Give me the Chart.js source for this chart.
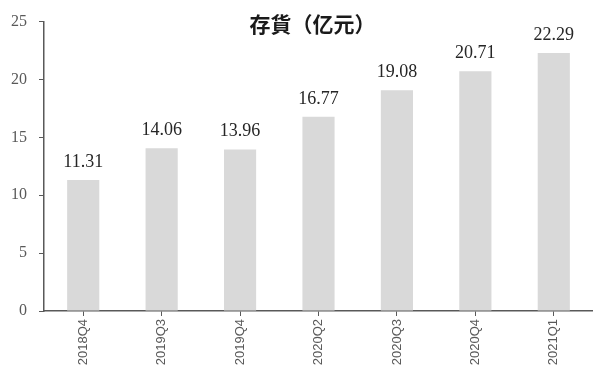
<!DOCTYPE html>
<html>
<head>
<meta charset="utf-8">
<script src="https://cdn.jsdelivr.net/npm/chart.js@4/dist/chart.umd.min.js"></script>
<style>
html,body{margin:0;padding:0;background:#fff;}
#wrap{width:593px;height:368px;position:relative;}
</style>
</head>
<body>
<div id="wrap"><canvas id="c"></canvas></div>
<script>
const titleText = "存貨（亿元）";
const categories = ["2018Q4","2019Q3","2019Q4","2020Q2","2020Q3","2020Q4","2021Q1"];
const inventory = [11.31,14.06,13.96,16.77,19.08,20.71,22.29];
const yTicks = [0,5,10,15,20,25];

const labelPlugin = {
  id: 'valueLabels',
  afterDatasetsDraw(chart) {
    const ctx = chart.ctx;
    const meta = chart.getDatasetMeta(0);
    ctx.save();
    ctx.font = '18px "Liberation Serif", serif';
    ctx.fillStyle = '#262626';
    ctx.textAlign = 'center';
    ctx.textBaseline = 'alphabetic';
    meta.data.forEach((bar, i) => {
      ctx.fillText(inventory[i].toFixed(2), bar.x, bar.y - 13);
    });
    ctx.restore();
  }
};
const titlePlugin = {
  id: 'topTitle',
  afterDraw(chart) {
    const ctx = chart.ctx;
    const a = chart.chartArea;
    ctx.save();
    ctx.font = 'bold 21px "Noto Sans CJK SC", sans-serif';
    ctx.fillStyle = '#1a1a1a';
    ctx.textAlign = 'center';
    ctx.textBaseline = 'middle';
    ctx.fillText(titleText, (a.left + a.right) / 2 - 6, 24);
    ctx.restore();
  }
};

new Chart(document.getElementById('c'), {
  type: 'bar',
  data: {
    labels: categories,
    datasets: [{
      data: inventory,
      backgroundColor: '#d9d9d9',
      borderWidth: 0,
      categoryPercentage: 1,
      barPercentage: 0.41
    }]
  },
  options: {
    responsive: true,
    maintainAspectRatio: false,
    animation: false,
    layout: { padding: { top: 21, right: 0, left: 0, bottom: 0 } },
    plugins: { legend: { display: false }, tooltip: { enabled: false }, title: { display: false } },
    scales: {
      x: {
        offset: true,
        afterFit(s) { s.height = 57; },
        border: { color: '#595959', width: 1.5 },
        grid: { offset: false, drawOnChartArea: false, drawTicks: true, tickLength: 5, color: '#595959' },
        ticks: {
          minRotation: 90, maxRotation: 90, padding: 3,
          color: '#595959',
          font: { family: '"Liberation Sans", sans-serif', size: 13 }
        }
      },
      y: {
        min: 0, max: 25,
        afterFit(s) { s.width = 44; },
        afterBuildTicks(s) { s.ticks = yTicks.map(v => ({ value: v })); },
        border: { color: '#595959', width: 1.5 },
        grid: { drawOnChartArea: false, drawTicks: true, tickLength: 5, color: '#595959' },
        ticks: {
          padding: 12,
          color: '#595959',
          font: { family: '"Liberation Serif", serif', size: 16 }
        }
      }
    }
  },
  plugins: [labelPlugin, titlePlugin]
});
</script>
</body>
</html>
